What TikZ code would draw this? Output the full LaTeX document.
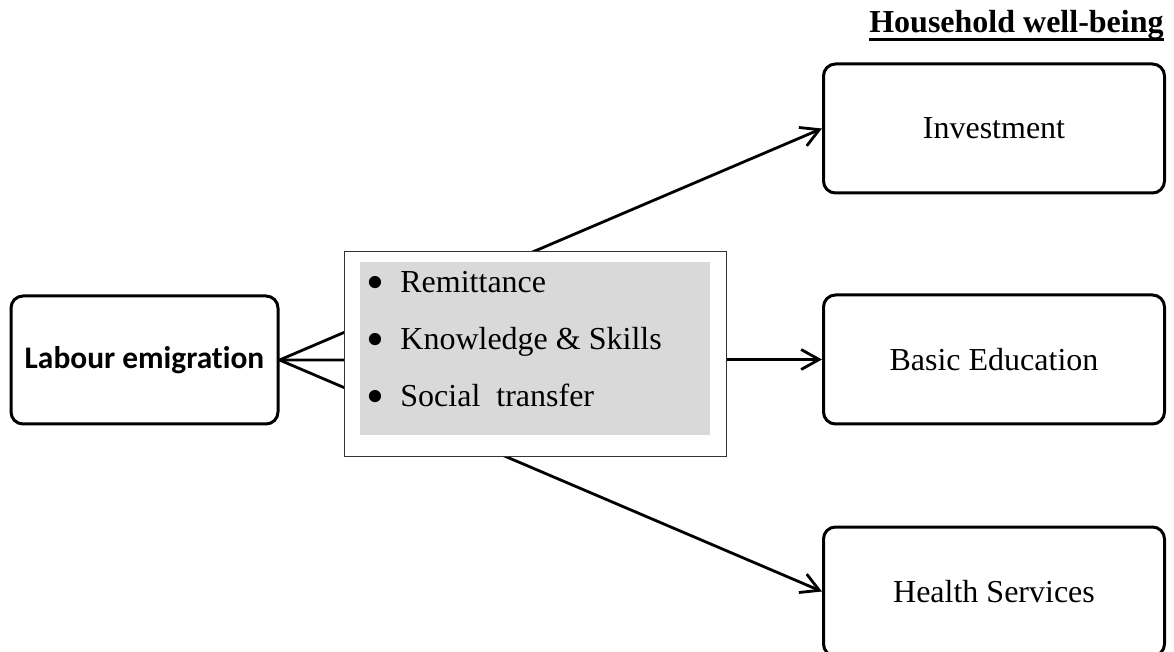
\documentclass[tikz,border=0pt]{standalone}
\usepackage{fontspec}
\setmainfont{Liberation Serif}
\newfontfamily\calibri[Ligatures=NoCommon]{Carlito}
\usetikzlibrary{positioning,backgrounds,arrows.meta}

\tikzset{
  wellbox/.style={draw,line width=1.5pt,rounded corners=6pt,minimum width=170.5pt,minimum height=64.5pt,font=\fontsize{16pt}{19pt}\selectfont},
  srcbox/.style={draw,line width=1.5pt,rounded corners=6pt,minimum width=133.5pt,minimum height=64pt,font=\calibri\bfseries\fontsize{15.7pt}{19pt}\selectfont},
  channel/.style={draw=black!80,line width=0.5pt,fill=white,minimum width=191pt,minimum height=102.5pt},
  item/.style={anchor=base west,inner sep=0pt,font=\fontsize{16pt}{19pt}\selectfont},
  flow/.style={line width=1.4pt,-{Straight Barb[length=9pt,width=10pt,line width=1.4pt]}}
}
\definecolor{listgray}{HTML}{D9D9D9}
\newcommand{\listdot}{\makebox[17pt][l]{\raisebox{-3.2pt}{\scalebox{1.6}{\textbullet}}}}

\begin{document}
\begin{tikzpicture}[x=0.5pt,y=-0.5pt]
        \useasboundingbox (0,0) rectangle (1174,652);
        \node[anchor=base east,inner sep=0pt,font=\fontsize{16pt}{19pt}\selectfont\bfseries] (title) at (1164,33) {Household well-being};
        \draw[line width=1.3pt] ([yshift=-3.2pt]title.base west) -- ([yshift=-3.2pt]title.base east);
        \node[srcbox] (lab) at (144.5,360) {Labour emigration};
        \node[wellbox] (inv) at (994,128.5) {Investment};
        \node[wellbox] (edu) at (994,359.5) {Basic Education};
        \node[wellbox] (hea) at (994,591.5) {Health Services};
        \node[channel] (mid) at (535,354.5) {};
        \node[fill=listgray,minimum width=175pt,minimum height=86.5pt] (list) at (535,348.5) {};
        \node[item] (rem) at (366,293) {\listdot Remittance};
        \node[item] (kno) at (366,350) {\listdot Knowledge \& Skills};
        \node[item] (soc) at (366,407) {\listdot Social\ \ transfer};
        \begin{scope}[on background layer]
          \draw[flow] (lab.east) -- (inv.west);
          \draw[flow] (lab.east) -- (edu.west);
          \draw[flow] (lab.east) -- (hea.west);
        \end{scope}
      \end{tikzpicture}
\end{document}
